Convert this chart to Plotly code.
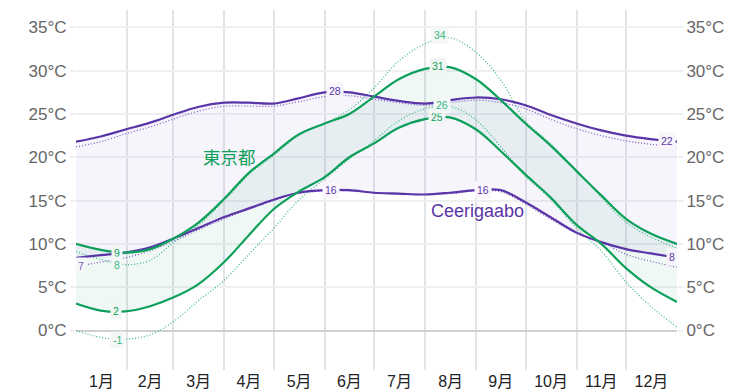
import plotly.graph_objects as go

# ---------------- data (day of year, °C) ----------------
days = [0, 15, 30, 45, 59, 74, 90, 105, 120, 135, 151, 166, 181, 196, 212, 227, 243, 258, 273, 288, 304, 319, 334, 349, 365]

# Ceerigaabo
ceer_high = [21.8, 22.4, 23.2, 24.0, 24.9, 25.8, 26.3, 26.3, 26.2, 26.8, 27.5, 27.5, 27.0, 26.5, 26.2, 26.6, 26.9, 26.7, 26.0, 24.9, 23.9, 23.1, 22.5, 22.1, 21.8]
ceer_high_p = [21.2, 21.8, 22.7, 23.5, 24.4, 25.3, 25.9, 25.9, 25.9, 26.4, 27.0, 27.1, 26.7, 26.3, 26.0, 26.3, 26.6, 26.3, 25.6, 24.4, 23.3, 22.5, 21.9, 21.5, 21.2]
ceer_low = [8.4, 8.7, 9.0, 9.6, 10.6, 11.8, 13.1, 14.1, 15.1, 15.9, 16.2, 16.2, 15.9, 15.8, 15.7, 15.9, 16.2, 16.2, 14.8, 13.1, 11.3, 10.2, 9.4, 8.9, 8.4]
ceer_low_p = [7.4, 7.9, 8.4, 9.2, 10.3, 11.6, 12.9, 14.0, 15.0, 15.8, 16.1, 16.1, 15.9, 15.7, 15.7, 15.8, 16.1, 16.0, 14.6, 12.9, 11.2, 10.2, 8.8, 8.0, 7.3]

# Tokyo
tokyo_high = [10.0, 9.3, 9.0, 9.4, 10.6, 12.4, 15.2, 18.2, 20.4, 22.6, 23.9, 25.0, 27.0, 29.0, 30.2, 30.4, 29.0, 26.6, 23.9, 21.4, 18.4, 15.6, 12.9, 11.2, 10.0]
tokyo_high_p = [9.1, 8.2, 7.6, 8.1, 10.1, 12.1, 15.0, 18.0, 20.2, 22.5, 23.9, 25.5, 28.0, 31.1, 33.1, 33.8, 32.1, 28.9, 24.2, 21.6, 18.5, 15.4, 12.5, 10.8, 9.5]
tokyo_low = [3.1, 2.3, 2.2, 2.8, 3.8, 5.3, 7.9, 11.0, 14.0, 16.0, 17.7, 20.0, 21.6, 23.4, 24.4, 24.6, 23.2, 20.7, 18.0, 15.4, 12.2, 10.0, 7.2, 5.0, 3.3]
tokyo_low_p = [0.0, -0.8, -1.0, -0.5, 1.0, 3.4, 5.8, 8.8, 11.8, 15.0, 17.5, 19.8, 21.9, 24.2, 25.6, 25.9, 24.3, 21.2, 17.8, 15.2, 11.8, 9.2, 5.6, 2.8, 0.4]

month_starts = [31, 59, 90, 120, 151, 181, 212, 243, 273, 304, 334]
month_mids = [15.5, 45, 74.5, 105, 135.5, 166, 196.5, 227.5, 258, 288.5, 319, 349.5]
month_labels = ["1月", "2月", "3月", "4月", "5月", "6月", "7月", "8月", "9月", "10月", "11月", "12月"]
temp_ticks = [0, 5, 10, 15, 20, 25, 30, 35]
temp_tick_text = [f"{t}°C" for t in temp_ticks]

# value labels: (day, value, text)
ceer_labels = [(157, 27.6, "28"), (359, 21.9, "22"), (155, 16.2, "16"), (247, 16.2, "16"), (362, 8.5, "8")]
ceer_p_labels = [(3, 7.4, "7")]
tokyo_labels = [(25, 9.0, "9"), (24, 2.2, "2"), (220, 30.5, "31"), (219, 24.6, "25")]
tokyo_p_labels = [(25, 7.6, "8"), (25, -1.1, "-1"), (221, 34.1, "34"), (222, 26.0, "26")]

city_names = [("東京都", 93, 19.9), ("Ceerigaabo", 244, 13.8)]

# ---------------- style ----------------
PURPLE = "#5b35a8"
PURPLE_P = "#7a57c4"
GREEN = "#0ea05b"
GREEN_P = "#35b77e"
FONT = "Liberation Sans, Arial, Noto Sans CJK JP, sans-serif"

fig = go.Figure()

def band(low, high, color):
    fig.add_trace(go.Scatter(x=days, y=low, mode="lines", line=dict(width=0, shape="spline"),
                             hoverinfo="skip", showlegend=False))
    fig.add_trace(go.Scatter(x=days, y=high, mode="lines", line=dict(width=0, shape="spline"),
                             fill="tonexty", fillcolor=color, hoverinfo="skip", showlegend=False))

band(ceer_low, ceer_high, "rgba(110,70,200,0.055)")
band(tokyo_low, tokyo_high, "rgba(20,150,110,0.065)")

def line(y, color, width, dash):
    fig.add_trace(go.Scatter(x=days, y=y, mode="lines",
                             line=dict(color=color, width=width, dash=dash, shape="spline"),
                             hoverinfo="skip", showlegend=False))

DOT = "1px,2px"
line(ceer_high_p, PURPLE_P, 1.2, DOT)
line(ceer_low_p, PURPLE_P, 1.2, DOT)
line(tokyo_high_p, GREEN_P, 1.2, DOT)
line(tokyo_low_p, GREEN_P, 1.2, DOT)
line(ceer_high, PURPLE, 2.2, "solid")
line(ceer_low, PURPLE, 2.2, "solid")
line(tokyo_high, GREEN, 2.2, "solid")
line(tokyo_low, GREEN, 2.2, "solid")

# dummy trace for the overlay axes
fig.add_trace(go.Scatter(x=days, y=ceer_high, xaxis="x2", yaxis="y2", mode="lines",
                         line=dict(width=0), opacity=0, hoverinfo="skip", showlegend=False))

def labels(lst, color, bg):
    for d, v, t in lst:
        fig.add_annotation(x=d, y=v, text=t, showarrow=False, xref="x", yref="y",
                           font=dict(family=FONT, size=10.5, color=color),
                           bgcolor=bg, borderpad=2)

labels(ceer_labels, PURPLE, "#f8f6fb")
labels(ceer_p_labels, PURPLE_P, "#f4f8f7")
labels(tokyo_labels, GREEN, "#f1f6f4")
labels(tokyo_p_labels, GREEN_P, "#f3f7f6")

fig.add_annotation(x=city_names[0][1], y=city_names[0][2], text=city_names[0][0], showarrow=False,
                   font=dict(family=FONT, size=17.5, color=GREEN))
fig.add_annotation(x=city_names[1][1], y=city_names[1][2], text=city_names[1][0], showarrow=False,
                   font=dict(family=FONT, size=18, color=PURPLE))

YR = [-4.56, 37.0]
fig.update_layout(
    width=753, height=392,
    margin=dict(l=76, r=76, t=10, b=22, autoexpand=False),
    paper_bgcolor="white", plot_bgcolor="white",
    font=dict(family=FONT),
    showlegend=False,
    xaxis=dict(range=[0, 365], tickvals=month_starts, showticklabels=False, showgrid=True,
               gridcolor="#e4e4e8", gridwidth=1.5, zeroline=False, showline=False, ticks="",
               automargin=False),
    xaxis2=dict(range=[0, 365], overlaying="x", anchor="y", side="bottom", tickvals=month_mids,
                ticktext=month_labels, showgrid=False, zeroline=False, showline=False, ticks="",
                automargin=False, tickfont=dict(family=FONT, size=16, color="#222")),
    yaxis=dict(range=YR, tickvals=temp_ticks, ticktext=temp_tick_text, showgrid=True, gridcolor="#efeff1",
               gridwidth=1.5, zeroline=True, zerolinecolor="#cfcfcf", zerolinewidth=2,
               ticks="outside", ticklen=5, tickcolor="#efeff1", tickwidth=1.5, automargin=False,
               tickfont=dict(family=FONT, size=17, color="#666")),
    yaxis2=dict(range=YR, overlaying="y", side="right", anchor="x", tickvals=temp_ticks,
                ticktext=temp_tick_text, showgrid=False, zeroline=False, ticks="outside", ticklen=5,
                tickcolor="#efeff1", tickwidth=1.5, automargin=False,
                tickfont=dict(family=FONT, size=17, color="#666")),
)

fig.write_html("out.html", config={"displayModeBar": False},
               post_script="document.body.style.margin='0';")
